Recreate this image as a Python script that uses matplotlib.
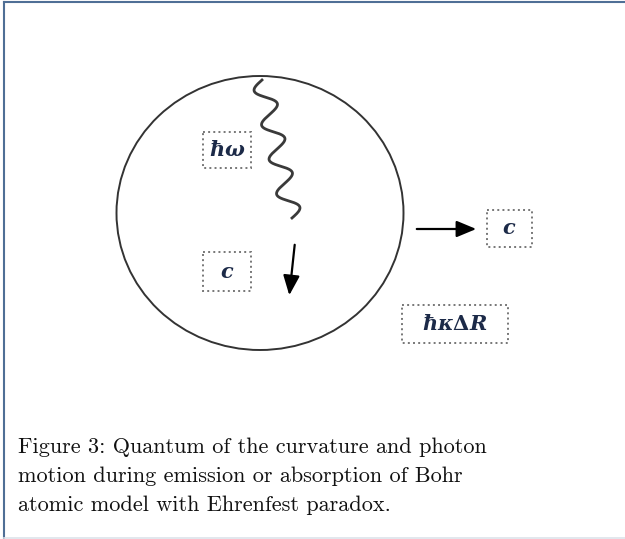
import numpy as np
import matplotlib.pyplot as plt
from matplotlib.patches import Ellipse, Rectangle

# diagram geometry (pixel coords, y downwards)
circle_center = (260, 213)
circle_size = (287, 274)
labels = [r"$\hbar\omega$", r"$c$", r"$c$", r"$\hbar\kappa\Delta R$"]
label_boxes = [(203, 132, 48, 36), (203, 252, 48, 39), (487, 210, 45, 37), (402, 305, 106, 38)]
arrows = [((295, 242), (289, 298)), ((414, 229), (479, 229))]
wave_start = (262, 80)
wave_end = (292, 218)
caption = ["Figure 3: Quantum of the curvature and photon",
           "motion during emission or absorption of Bohr",
           "atomic model with Ehrenfest paradox."]
caption_y = [447, 476, 505]

plt.rcParams['mathtext.fontset'] = 'custom'
plt.rcParams['mathtext.it'] = 'DejaVu Serif:italic:bold'
plt.rcParams['mathtext.rm'] = 'DejaVu Serif:bold'

fig = plt.figure(figsize=(6.25, 5.39), dpi=100)
ax = fig.add_axes([0, 0, 1, 1])
ax.set_xlim(0, 625)
ax.set_ylim(539, 0)
ax.axis('off')

# frame
ax.plot([4, 4], [539, 1.5], color='#4f6f96', lw=1.5)
ax.plot([4, 625], [1.5, 1.5], color='#4f6f96', lw=1.5)
ax.plot([4, 625], [538, 538], color='#dde3ea', lw=1.2)

ax.add_patch(Ellipse(circle_center, *circle_size, fill=False, ec='#333333', lw=1.4))

# wavy photon line
t = np.linspace(0, 1, 400)
x0, y0 = wave_start
x1, y1 = wave_end
dx, dy = x1 - x0, y1 - y0
L = np.hypot(dx, dy)
nx, ny = -dy / L, dx / L
amp = 10 * np.sin(2 * np.pi * 4 * t)
ax.plot(x0 + dx * t + nx * amp, y0 + dy * t + ny * amp, color='#3a3a3a', lw=2.0)

for (sx, sy), (ex, ey) in arrows:
    ax.annotate('', xy=(ex, ey), xytext=(sx, sy),
                arrowprops=dict(arrowstyle='-|>,head_width=0.5,head_length=1.2',
                                color='black', lw=1.6))

for lab, (bx, by, bw, bh) in zip(labels, label_boxes):
    ax.add_patch(Rectangle((bx, by), bw, bh, fill=False, ec='#777777', lw=1.4, ls=':'))
    ax.text(bx + bw / 2, by + bh / 2, lab, ha='center', va='center',
            fontsize=15, color='#1c2a48')

for line, y in zip(caption, caption_y):
    ax.text(18, y, line, fontsize=16, family='cmr10', color='#111111', va='center', ha='left')

fig.savefig('out.png', dpi=100)
